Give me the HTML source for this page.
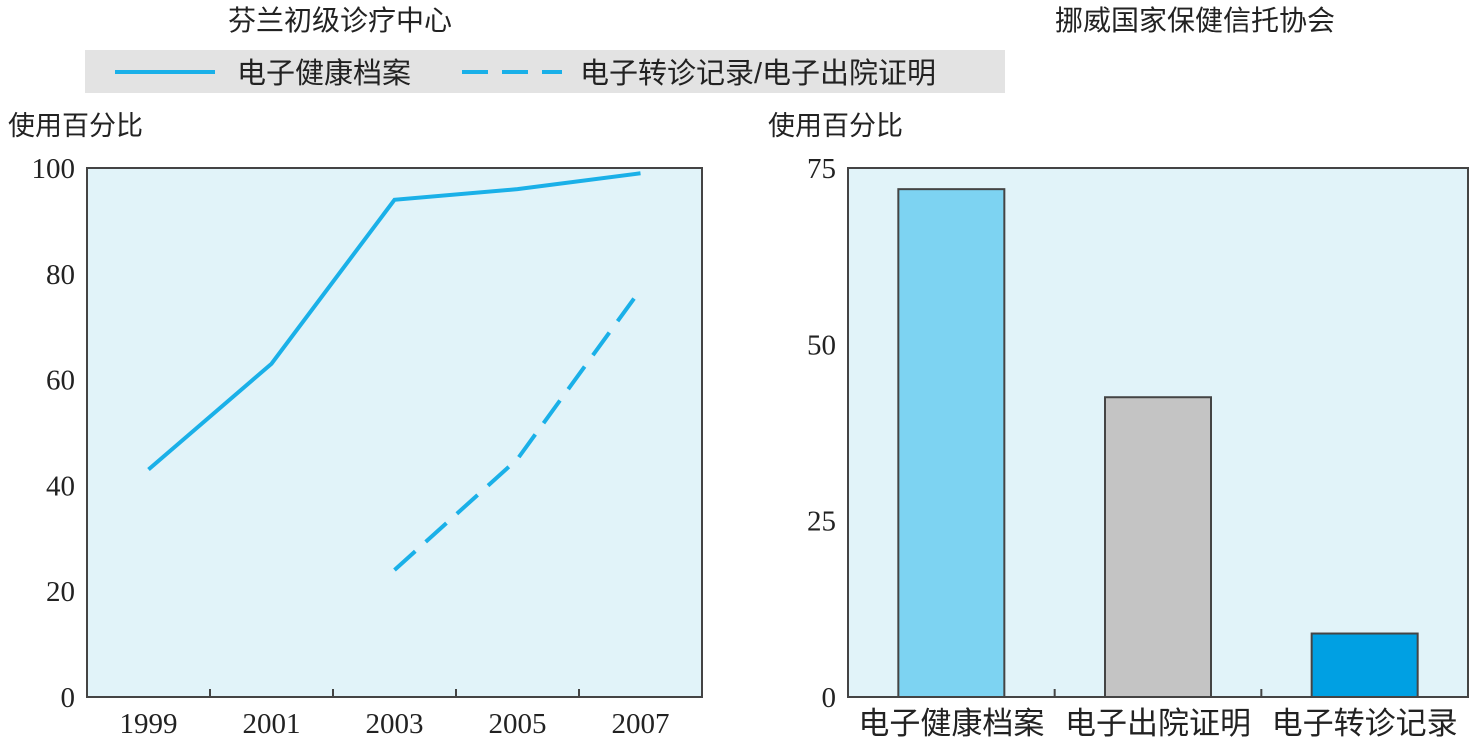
<!DOCTYPE html>
<html><head><meta charset="utf-8"><style>
body{margin:0;background:#fff;}
svg text{font-family:"Liberation Serif","Noto Serif CJK SC",serif;fill:#222;}
.cjk{font-family:"Liberation Sans","Noto Sans CJK SC",sans-serif;}
</style></head><body>
<svg id="c" width="1469" height="747" xmlns="http://www.w3.org/2000/svg">
<text class="cjk" x="340" y="30" font-size="28" text-anchor="middle">芬兰初级诊疗中心</text>
<text class="cjk" x="1195" y="30" font-size="28" text-anchor="middle">挪威国家保健信托协会</text>
<rect x="85" y="50" width="920" height="43" fill="#e3e3e3"/>
<line x1="115" y1="72" x2="215" y2="72" stroke="#1ab0e8" stroke-width="4"/>
<text class="cjk" x="237" y="83" font-size="29">电子健康档案</text>
<line x1="462" y1="72" x2="562" y2="72" stroke="#1ab0e8" stroke-width="4" stroke-dasharray="26,14"/>
<text class="cjk" x="580" y="83" font-size="29">电子转诊记录/电子出院证明</text>
<text class="cjk" x="8" y="135" font-size="27">使用百分比</text>
<text class="cjk" x="768" y="135" font-size="27">使用百分比</text>
<rect x="87" y="168" width="615" height="529" fill="#e1f3f9" stroke="#444" stroke-width="2"/>
<rect x="848" y="168" width="620" height="529" fill="#e1f3f9" stroke="#444" stroke-width="2"/>
<g id="L"></g><g id="R"></g>
</svg>
<script>
const years=["1999","2001","2003","2005","2007"];
const ehr=[43,63,94,96,99];
const referral=[null,null,24,45,77];
const leftTicks=[0,20,40,60,80,100];
const barCats=["电子健康档案","电子出院证明","电子转诊记录"];
const barVals=[72,42.5,9];
const barColors=["#7dd3f2","#c4c4c4","#00a0e3"];
const rightTicks=[0,25,50,75];
const NS="http://www.w3.org/2000/svg";
function mk(t,a,p){const e=document.createElementNS(NS,t);for(const k in a)e.setAttribute(k,a[k]);p.appendChild(e);return e;}
const L=document.getElementById('L'),R=document.getElementById('R');
const lx0=87,lx1=702,y0=697,y1=168;
const bw=(lx1-lx0)/years.length;
const lxs=i=>lx0+bw*(i+0.5);
const lys=v=>y0-(v/100)*(y0-y1);
leftTicks.forEach(v=>{const t=mk('text',{x:lx0-12,y:lys(v)+10,'font-size':29,'text-anchor':'end'},L);t.textContent=v;

});
years.forEach((y,i)=>{const t=mk('text',{x:lxs(i),y:733,'font-size':29,'text-anchor':'middle'},L);t.textContent=y;


if(i>0){const l=mk('line',{x1:lx0+bw*i,x2:lx0+bw*i,y1:y0,y2:y0-8,stroke:'#444','stroke-width':2},L);

}});
function path(arr){let d='';arr.forEach((v,i)=>{if(v==null)return;d+=(d?'L':'M')+lxs(i)+','+lys(v);});return d;}
const p1=mk('path',{d:path(ehr),fill:'none',stroke:'#1ab0e8','stroke-width':4},L);


const p2=mk('path',{d:path(referral),fill:'none',stroke:'#1ab0e8','stroke-width':4,'stroke-dasharray':'28,14'},L);


const rx0=848,rx1=1468;
const rw=(rx1-rx0)/barCats.length;
const rys=v=>y0-(v/75)*(y0-y1);
rightTicks.forEach(v=>{const t=mk('text',{x:rx0-12,y:rys(v)+10,'font-size':29,'text-anchor':'end'},R);t.textContent=v;

});
barCats.forEach((c,i)=>{const cx=rx0+rw*(i+0.5);
const b=mk('rect',{x:cx-53,y:rys(barVals[i]),width:106,height:y0-rys(barVals[i]),fill:barColors[i],stroke:'#444','stroke-width':2},R);


const t=mk('text',{x:cx,y:734,'font-size':31,'text-anchor':'middle',class:'cjk'},R);t.textContent=c;


if(i>0){const l=mk('line',{x1:rx0+rw*i,x2:rx0+rw*i,y1:y0,y2:y0-8,stroke:'#444','stroke-width':2},R);

}});
</script>
</body></html>
